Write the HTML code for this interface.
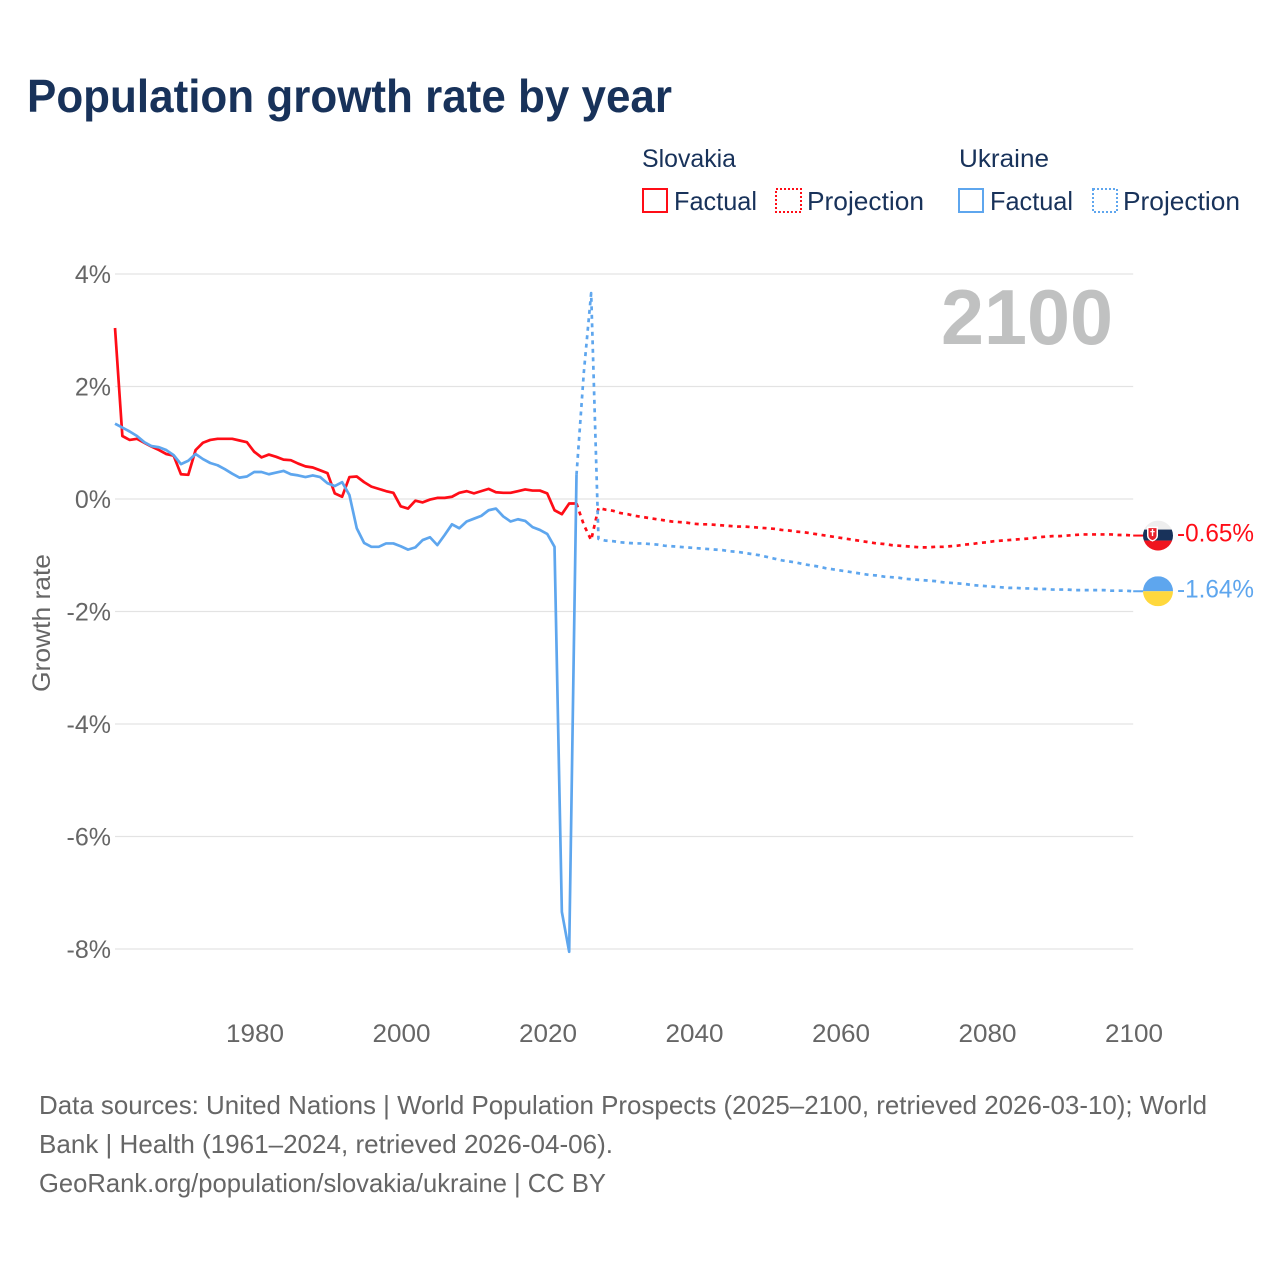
<!DOCTYPE html>
<html lang="en">
<head>
<meta charset="utf-8">
<title>Population growth rate by year</title>
<style>
html,body{margin:0;padding:0;background:#fff;}
svg{display:block;}
text{font-family:"Liberation Sans",sans-serif;}
</style>
</head>
<body>
<svg id="chart" xmlns="http://www.w3.org/2000/svg" width="1280" height="1280" viewBox="0 0 1280 1280">
  <rect x="0" y="0" width="1280" height="1280" fill="#ffffff"/>
  <text x="27" y="112" font-size="46" font-weight="bold" fill="#18325a" textLength="645" lengthAdjust="spacingAndGlyphs">Population growth rate by year</text>

  <g>
    <text x="642" y="167" font-size="25" fill="#18325a" textLength="94" lengthAdjust="spacingAndGlyphs">Slovakia</text>
    <rect x="643" y="189" width="24" height="23" fill="none" stroke="#ff0d17" stroke-width="2"/>
    <text x="674" y="210" font-size="26" fill="#18325a" textLength="83" lengthAdjust="spacingAndGlyphs">Factual</text>
    <rect x="776" y="189" width="25" height="23" fill="none" stroke="#ff0d17" stroke-width="2" stroke-dasharray="2 2"/>
    <text x="807" y="210" font-size="26" fill="#18325a" textLength="117" lengthAdjust="spacingAndGlyphs">Projection</text>
    <text x="959" y="167" font-size="25" fill="#18325a" textLength="90" lengthAdjust="spacingAndGlyphs">Ukraine</text>
    <rect x="959" y="189" width="24" height="23" fill="none" stroke="#5ea6ee" stroke-width="2"/>
    <text x="990" y="210" font-size="26" fill="#18325a" textLength="83" lengthAdjust="spacingAndGlyphs">Factual</text>
    <rect x="1093" y="189" width="24" height="23" fill="none" stroke="#5ea6ee" stroke-width="2" stroke-dasharray="2 2"/>
    <text x="1123" y="210" font-size="26" fill="#18325a" textLength="117" lengthAdjust="spacingAndGlyphs">Projection</text>
  </g>

  <g id="grid"></g>
  <g id="yticks"></g>
  <g id="xticks"></g>

  <text x="941" y="344" font-size="78" font-weight="bold" fill="#c0c1c1" textLength="172" lengthAdjust="spacingAndGlyphs">2100</text>
  <text transform="translate(50,692) rotate(-90)" x="0" y="0" font-size="25" fill="#666666" textLength="138" lengthAdjust="spacingAndGlyphs">Growth rate</text>

  <g id="series"></g>
  <g id="endmarks"></g>

  <g>
    <text x="39" y="1114" font-size="26" fill="#666666" textLength="1168" lengthAdjust="spacingAndGlyphs">Data sources: United Nations | World Population Prospects (2025–2100, retrieved 2026-03-10); World</text>
    <text x="39" y="1153" font-size="26" fill="#666666" textLength="574" lengthAdjust="spacingAndGlyphs">Bank | Health (1961–2024, retrieved 2026-04-06).</text>
    <text x="39" y="1192" font-size="26" fill="#666666" textLength="567" lengthAdjust="spacingAndGlyphs">GeoRank.org/population/slovakia/ukraine | CC BY</text>
  </g>
</svg>
<script>
const factualStartYear = 1961;
const projectionStartYear = 2024;
const yTickValues = [4, 2, 0, -2, -4, -6, -8];
const yTickLabels = ['4%', '2%', '0%', '-2%', '-4%', '-6%', '-8%'];
const xTickYears = [1980, 2000, 2020, 2040, 2060, 2080, 2100];

const slovakiaFactual = [
  3.04, 1.12, 1.05, 1.07, 1.00, 0.93, 0.87, 0.80, 0.77,
  0.44, 0.43, 0.87, 1.00, 1.05, 1.07, 1.07, 1.07, 1.04, 1.01,
  0.84, 0.74, 0.79, 0.75, 0.70, 0.69, 0.63, 0.58, 0.56, 0.51,
  0.46, 0.10, 0.04, 0.39, 0.40, 0.30, 0.22, 0.18, 0.14, 0.11,
  -0.13, -0.17, -0.03, -0.06, -0.01, 0.02, 0.02, 0.04, 0.11, 0.14,
  0.10, 0.14, 0.18, 0.12, 0.11, 0.11, 0.14, 0.17, 0.15, 0.15,
  0.10, -0.20, -0.27, -0.08, -0.08
];
const ukraineFactual = [
  1.34, 1.27, 1.20, 1.12, 1.01, 0.94, 0.92, 0.87, 0.78,
  0.62, 0.68, 0.80, 0.71, 0.64, 0.60, 0.53, 0.45, 0.38, 0.40,
  0.48, 0.48, 0.44, 0.47, 0.50, 0.44, 0.42, 0.39, 0.42, 0.39,
  0.28, 0.23, 0.30, 0.07, -0.52, -0.78, -0.85, -0.85, -0.79, -0.79,
  -0.84, -0.90, -0.86, -0.73, -0.68, -0.82, -0.64, -0.45, -0.52, -0.40,
  -0.35, -0.30, -0.20, -0.17, -0.31, -0.40, -0.36, -0.39, -0.50, -0.55,
  -0.62, -0.85, -7.34, -8.05, 0.43
];
const slovakiaProjection = [
  -0.08, -0.46, -0.73, -0.16, -0.19, -0.21, -0.25,
  -0.27, -0.30, -0.32, -0.34, -0.36, -0.38, -0.40, -0.41, -0.42, -0.44,
  -0.45, -0.45, -0.46, -0.47, -0.48, -0.49, -0.49, -0.50, -0.51, -0.52,
  -0.53, -0.55, -0.56, -0.58, -0.59, -0.61, -0.63, -0.65, -0.67, -0.69,
  -0.71, -0.73, -0.75, -0.77, -0.79, -0.80, -0.82, -0.83, -0.84, -0.85,
  -0.86, -0.86, -0.85, -0.85, -0.84, -0.83, -0.81, -0.80, -0.78, -0.77,
  -0.75, -0.74, -0.73, -0.72, -0.71, -0.70, -0.68, -0.67, -0.66, -0.66,
  -0.65, -0.64, -0.63, -0.63, -0.63, -0.63, -0.63, -0.64, -0.64, -0.65
];
const ukraineProjection = [
  0.43, 2.25, 3.66, -0.71, -0.74, -0.75, -0.77,
  -0.78, -0.79, -0.79, -0.80, -0.81, -0.83, -0.84, -0.85, -0.86, -0.87,
  -0.88, -0.89, -0.90, -0.91, -0.93, -0.94, -0.96, -0.98, -1.00, -1.03,
  -1.06, -1.09, -1.11, -1.13, -1.16, -1.18, -1.20, -1.23, -1.25, -1.27,
  -1.29, -1.31, -1.33, -1.35, -1.36, -1.38, -1.39, -1.40, -1.42, -1.43,
  -1.44, -1.45, -1.46, -1.48, -1.49, -1.50, -1.51, -1.53, -1.54, -1.55,
  -1.56, -1.57, -1.58, -1.58, -1.59, -1.59, -1.60, -1.60, -1.61, -1.61,
  -1.61, -1.62, -1.62, -1.62, -1.62, -1.62, -1.63, -1.63, -1.63, -1.64
];

const NS = 'http://www.w3.org/2000/svg';
const RED = '#ff0d17';
const BLUE = '#5ea6ee';
function xScale(year) { return 254.2 + (year - 1980) * 879 / 120; }
function yScale(v) { return 499 - v * 56.25; }
function make(tag, parent) {
  const el = document.createElementNS(NS, tag);
  parent.appendChild(el);
  return el;
}
function pathFrom(values, startYear) {
  return values.map(function (v, i) {
    return (i ? 'L' : 'M') + xScale(startYear + i).toFixed(2) + ' ' + yScale(v).toFixed(2);
  }).join(' ');
}
const grid = document.getElementById('grid');
const yticks = document.getElementById('yticks');
const xticks = document.getElementById('xticks');
const series = document.getElementById('series');
const endmarks = document.getElementById('endmarks');

yTickValues.forEach(function (v, i) {
  const line = make('line', grid);
  
  
  line.setAttribute('x1', xScale(1961));
  line.setAttribute('x2', xScale(2100));
  line.setAttribute('y1', yScale(v));
  line.setAttribute('y2', yScale(v));
  line.setAttribute('stroke', '#e3e3e3');
  line.setAttribute('stroke-width', '1.3');
  const label = make('text', yticks);
  
  
  label.setAttribute('x', 111);
  label.setAttribute('y', yScale(v) + 9);
  label.setAttribute('text-anchor', 'end');
  label.setAttribute('font-size', '25');
  label.setAttribute('fill', '#666666');
  label.textContent = yTickLabels[i];
});
xTickYears.forEach(function (year) {
  const label = make('text', xticks);
  
  
  label.setAttribute('x', xScale(year) + 0.8);
  label.setAttribute('y', 1042);
  label.setAttribute('text-anchor', 'middle');
  label.setAttribute('font-size', '25');
  label.setAttribute('fill', '#666666');
  label.setAttribute('textLength', '58');
  label.setAttribute('lengthAdjust', 'spacingAndGlyphs');
  label.textContent = String(year);
});

function drawLine(values, startYear, color, dashed, name) {
  const p = make('path', series);
  
  
  p.setAttribute('d', pathFrom(values, startYear));
  p.setAttribute('fill', 'none');
  p.setAttribute('stroke', color);
  p.setAttribute('stroke-width', '2.7');
  p.setAttribute('stroke-linejoin', 'round');
  if (dashed) p.setAttribute('stroke-dasharray', '4 4.5');
}
drawLine(slovakiaProjection, projectionStartYear, RED, true, 'slovakia-projection-line');
drawLine(ukraineProjection, projectionStartYear, BLUE, true, 'ukraine-projection-line');
drawLine(slovakiaFactual, factualStartYear, RED, false, 'slovakia-factual-line');
drawLine(ukraineFactual, factualStartYear, BLUE, false, 'ukraine-factual-line');

function drawLeader(value, color, name) {
  const l = make('line', endmarks);
  
  
  l.setAttribute('x1', xScale(2100));
  l.setAttribute('x2', xScale(2100) + 10);
  l.setAttribute('y1', yScale(value));
  l.setAttribute('y2', yScale(value));
  l.setAttribute('stroke', color);
  l.setAttribute('stroke-width', '2');
}
function drawValue(value, color, name) {
  const t = make('text', endmarks);
  
  
  t.setAttribute('x', 1177);
  t.setAttribute('y', yScale(value) + 6);
  t.setAttribute('font-size', '25');
  t.setAttribute('fill', color);
  t.setAttribute('textLength', '77');
  t.setAttribute('lengthAdjust', 'spacingAndGlyphs');
  t.textContent = value.toFixed(2) + '%';
}
function band(parent, x, y, w, h, fill, name) {
  const r = make('rect', parent);
  
  
  r.setAttribute('x', x);
  r.setAttribute('y', y);
  r.setAttribute('width', w);
  r.setAttribute('height', h);
  r.setAttribute('fill', fill);
}
const lastSk = slovakiaProjection[slovakiaProjection.length - 1];
const lastUa = ukraineProjection[ukraineProjection.length - 1];
drawLeader(lastSk, RED, 'slovakia-leader');
drawLeader(lastUa, BLUE, 'ukraine-leader');

const defs = make('defs', endmarks);
const clipSk = make('clipPath', defs);
clipSk.setAttribute('id', 'clip-sk');
const csk = make('circle', clipSk);
csk.setAttribute('cx', 1158);
csk.setAttribute('cy', yScale(lastSk));
csk.setAttribute('r', 15);
const clipUa = make('clipPath', defs);
clipUa.setAttribute('id', 'clip-ua');
const cua = make('circle', clipUa);
cua.setAttribute('cx', 1158);
cua.setAttribute('cy', yScale(lastUa));
cua.setAttribute('r', 15);

const flagSk = make('g', endmarks);


flagSk.setAttribute('clip-path', 'url(#clip-sk)');
const skY = yScale(lastSk);
band(flagSk, 1143, skY - 15, 30, 9.5, '#eeeeee', 'slovakia-flag-white-band');
band(flagSk, 1143, skY - 6, 30, 11, '#18325a', 'slovakia-flag-blue-band');
band(flagSk, 1143, skY + 5, 30, 10, '#f0141e', 'slovakia-flag-red-band');
const shieldOuter = make('path', flagSk);


shieldOuter.setAttribute('d', 'M1147 ' + (skY - 9) + ' h11 v9 q0 4 -5.5 6 q-5.5 -2 -5.5 -6 z');
shieldOuter.setAttribute('fill', '#ffffff');
const shieldInner = make('path', flagSk);


shieldInner.setAttribute('d', 'M1148.5 ' + (skY - 7.5) + ' h8 v7.5 q0 3 -4 4.5 q-4 -1.5 -4 -4.5 z');
shieldInner.setAttribute('fill', '#e8202a');
band(flagSk, 1151.8, skY - 6.5, 1.4, 7, '#ffffff', 'slovakia-flag-cross-stem');
band(flagSk, 1150.3, skY - 4.5, 4.4, 1.2, '#ffffff', 'slovakia-flag-cross-arm');

const flagUa = make('g', endmarks);


flagUa.setAttribute('clip-path', 'url(#clip-ua)');
const uaY = yScale(lastUa);
band(flagUa, 1143, uaY - 15, 30, 15, '#5ea6ee', 'ukraine-flag-blue-band');
band(flagUa, 1143, uaY, 30, 15, '#ffd83d', 'ukraine-flag-yellow-band');

drawValue(lastSk, RED, 'slovakia-end-value');
drawValue(lastUa, BLUE, 'ukraine-end-value');
</script>
</body>
</html>
